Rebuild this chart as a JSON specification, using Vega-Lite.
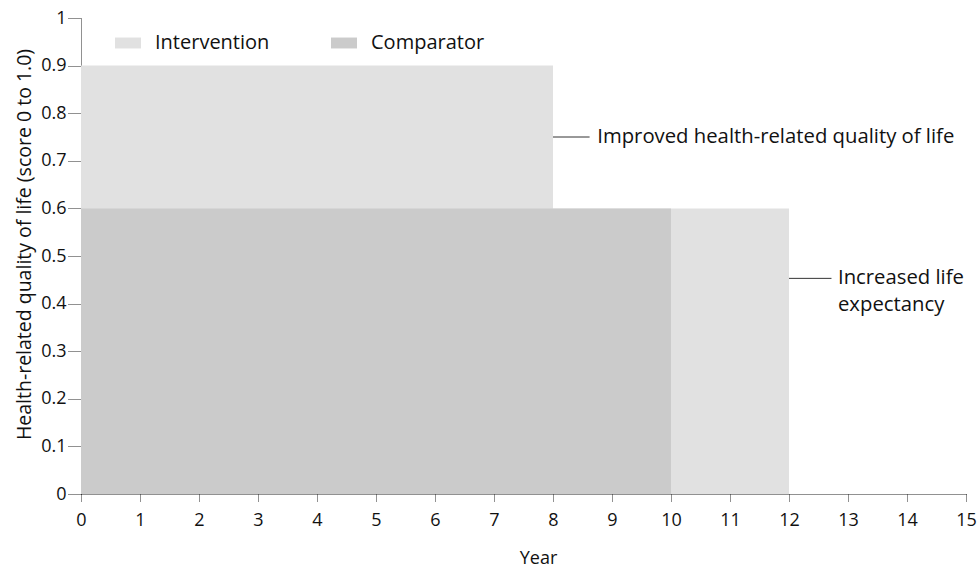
{
  "$schema": "https://vega.github.io/schema/vega-lite/v6.json",
  "width": 885,
  "height": 476,
  "autosize": {"type": "none"},
  "padding": {"left": 81, "top": 18, "right": 14, "bottom": 74},
  "background": "white",
  "config": {
    "view": {"stroke": null},
    "font": "Open Sans",
    "axis": {
      "grid": false,
      "domainColor": "#222222",
      "domainDash": [1, 1],
      "domainWidth": 1,
      "tickColor": "#222222",
      "tickDash": [1, 1],
      "labelColor": "#111111",
      "titleColor": "#111111",
      "labelFontSize": 18,
      "titleFontSize": 18,
      "titleFontWeight": "normal",
      "labelFont": "Open Sans",
      "titleFont": "Open Sans"
    },
    "legend": {"labelFont": "Open Sans"}
  },
  "datasets": {
    "areas": [
      {"group": "Intervention", "x0": 0, "x1": 8, "y0": 0, "y1": 0.9},
      {"group": "Intervention", "x0": 8, "x1": 12, "y0": 0, "y1": 0.6},
      {"group": "Comparator", "x0": 0, "x1": 10, "y0": 0, "y1": 0.6}
    ],
    "leaders": [
      {"x": 8, "x2": 8.62, "y": 0.75},
      {"x": 12, "x2": 12.72, "y": 0.453}
    ],
    "notes": [
      {"x": 8.75, "y": 0.75, "label": "Improved health-related quality of life"},
      {"x": 12.83, "y": 0.453, "label": "Increased life\nexpectancy"}
    ]
  },
  "layer": [
    {
      "data": {"name": "areas"},
      "mark": {"type": "rect"},
      "encoding": {
        "x": {
          "field": "x0",
          "type": "quantitative",
          "scale": {"domain": [0, 15], "nice": false, "zero": true},
          "axis": {
            "title": "Year",
            "values": [0,1,2,3,4,5,6,7,8,9,10,11,12,13,14,15],
            "format": "d",
            "tickSize": 8,
            "labelPadding": 9,
            "titlePadding": 20,
            "titleX": 457,
            "labelFlush": false
          }
        },
        "x2": {"field": "x1"},
        "y": {
          "field": "y0",
          "type": "quantitative",
          "scale": {"domain": [0, 1], "nice": false},
          "axis": {
            "title": "Health-related quality of life (score 0 to 1.0)",
            "values": [0,0.1,0.2,0.3,0.4,0.5,0.6,0.7,0.8,0.9,1],
            "format": ".1~f",
            "tickSize": 13,
            "labelPadding": 2,
            "titlePadding": 6,
            "titleFontSize": 19.5,
            "titleY": 226,
            "labelFlush": false
          }
        },
        "y2": {"field": "y1"},
        "color": {
          "field": "group",
          "type": "nominal",
          "scale": {"domain": ["Intervention", "Comparator"], "range": ["#e1e1e1", "#cbcbcb"]},
          "legend": {
            "title": null,
            "orient": "none",
            "direction": "horizontal",
            "legendX": 34,
            "legendY": 12,
            "symbolType": "M-1,-0.42H1V0.42H-1Z",
            "symbolSize": 676,
            "symbolStrokeWidth": 0,
            "labelFontSize": 20,
            "labelColor": "#111111",
            "labelOffset": 14,
            "columnPadding": 61
          }
        },
        "order": {"field": "group", "type": "nominal", "sort": "descending"}
      }
    },
    {
      "data": {"name": "leaders"},
      "mark": {"type": "rule", "color": "#333333", "strokeWidth": 1},
      "encoding": {
        "x": {"field": "x", "type": "quantitative"},
        "x2": {"field": "x2"},
        "y": {"field": "y", "type": "quantitative"}
      }
    },
    {
      "data": {"name": "notes"},
      "mark": {"type": "text", "align": "left", "baseline": "middle", "fontSize": 20.3, "color": "#111111", "lineBreak": "\n", "lineHeight": 27, "font": "Open Sans"},
      "encoding": {
        "x": {"field": "x", "type": "quantitative"},
        "y": {"field": "y", "type": "quantitative"},
        "text": {"field": "label"}
      }
    }
  ]
}
